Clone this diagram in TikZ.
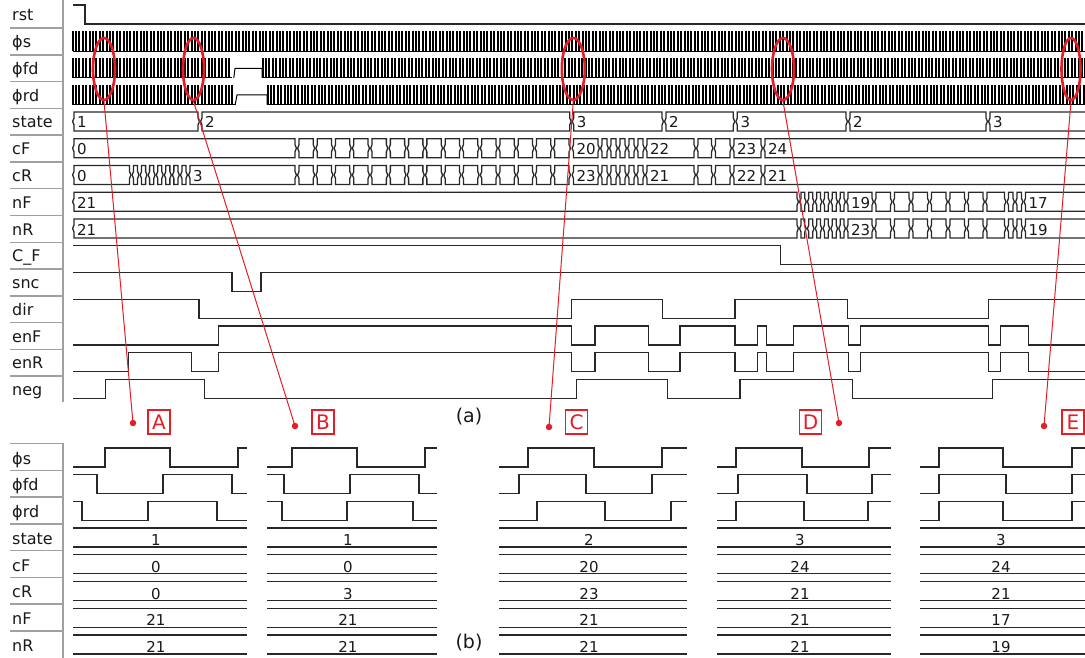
\documentclass[tikz,border=0pt]{standalone}
\usepackage{fontspec}
\setmainfont{DejaVu Sans}
\usetikzlibrary{shapes.geometric}
\definecolor{myred}{RGB}{228,30,38}
\definecolor{wavec}{RGB}{40,40,40}
\definecolor{sepc}{RGB}{160,160,160}
\newcounter{vn}
\tikzset{
 wave/.style={line width=1.3pt, draw=wavec},
 clk/.style={line width=1pt, draw=black},
 bus/.style={line width=1.3pt, draw=wavec},
 sep/.style={line width=1.5pt, draw=sepc},
 lbl/.style={font=\fontsize{16}{16}\selectfont, anchor=base west, inner sep=0pt, text=black!90},
 val/.style={font=\fontsize{15}{15}\selectfont, inner sep=0pt, text=black!90},
 ell/.style={ellipse, draw=myred, line width=2.6pt, inner sep=0pt},
 rline/.style={draw=myred, line width=1pt},
 rdot/.style={circle, fill=myred, inner sep=0pt, minimum size=6.5pt},
 lbox/.style={draw=myred, text=myred, line width=1.2pt, font=\fontsize{20}{20}\selectfont, minimum width=22pt, minimum height=24pt, inner sep=0pt},
 captxt/.style={font=\fontsize{19}{19}\selectfont, inner sep=0pt, text=black!90},
}
% bus segment shape: x0, x1, row top
\newcommand\busseg[3]{\draw[bus] ({#1+2},{#3+3.5}) -- ({#2-2},{#3+3.5}) -- ({#2-2},{#3+9.5}) -- ({#2-0.6},{#3+13}) -- ({#2-2},{#3+16.5}) -- ({#2-2},{#3+22.5}) -- ({#1+2},{#3+22.5}) -- ({#1+2},{#3+16.5}) -- ({#1+0.6},{#3+13}) -- ({#1+2},{#3+9.5}) -- cycle;}
% bus value text: x (segment start), row top, text
\newcommand\busval[3]{\stepcounter{vn}\node[val,anchor=base west] (v\arabic{vn}) at ({#1+5},{#2+19.5}) {#3};}
% equal small segments: start, width, count, row top
\newcommand\bussegs[4]{\foreach \k in {1,...,#3}{\pgfmathsetmacro\xa{#1+#2*(\k-1)}\pgfmathsetmacro\xb{#1+#2*\k}\busseg{\xa}{\xb}{#4}}}
% zoomed panel bus row: x0, x1, row top, text
\newcommand\pbus[4]{\draw[bus] (#1,{#3+3.5}) -- (#2,{#3+3.5}) (#1,{#3+22.5}) -- (#2,{#3+22.5});\stepcounter{vn}\node[val,anchor=base] (v\arabic{vn}) at ({(#1+#2)/2-4},{#3+21}) {#4};}
% clock: x0, periods, row top
\newcommand\clock[3]{\draw[clk] (#1,{#3+23}) \foreach \k in {1,...,#2}{ -- ++(0,-19.5) -- ++(1,0) -- ++(0,19.5) -- ++(2.4,0)};}

\begin{document}
\begin{tikzpicture}[x=1pt,y=-1pt]
\useasboundingbox (0,0) rectangle (1085,658);
\clip (0,0) rectangle (1085,658);

% ---------- label column (a) ----------
\draw[sep] (63,0) -- (63,402);
\foreach \i in {1,...,14}{\draw[sep] (10,{1.5+26.75*\i}) -- (62,{1.5+26.75*\i});}
\foreach \t [count=\i from 0] in {rst,ϕs,ϕfd,ϕrd,state,cF,cR,nF,nR,C\_F,snc,dir,enF,enR,neg}{
  \node[lbl] (la\i) at (12,{1.5+26.75*\i+19.5}) {\t};}

% ---------- digital signals ----------
\draw[wave] (73,5) -- (85,5) -- (85,24) -- (1090,24);
\draw[wave] (73,245.75) -| (780.5,264.75) -- (1090,264.75);
\draw[wave] (73,272.5) -| (232,291.5) -| (261,272.5) -- (1090,272.5);
\draw[wave] (73,299.25) -| (199,318.25) -| (571.7,299.25) -| (662.7,318.25) -| (735,299.25) -| (847.3,318.25) -| (988.3,299.25) -- (1090,299.25);
\draw[wave] (73,345) -| (218.7,326) -| (571.7,345) -| (595,326) -| (648.3,345) -| (680,326) -| (735,345) -| (757.7,326) -| (766.7,345) -| (793.3,326) -| (848.3,345) -| (860.7,326) -| (988.3,345) -| (1000.7,326) -| (1028.3,345) -- (1090,345);
\draw[wave] (73,371.75) -| (128.3,352.75) -| (191.7,371.75) -| (218.7,352.75) -| (571.7,371.75) -| (595,352.75) -| (648.3,371.75) -| (680,352.75) -| (735,371.75) -| (757.7,352.75) -| (766.7,371.75) -| (793.3,352.75) -| (848.3,371.75) -| (860.7,352.75) -| (988.3,371.75) -| (1000.7,352.75) -| (1028.3,371.75) -- (1090,371.75);
\draw[wave] (73,398.5) -| (105.7,379.5) -| (204.3,398.5) -| (576.7,379.5) -| (667.3,398.5) -| (740,379.5) -| (852.7,398.5) -| (992.3,379.5) -- (1090,379.5);

% ---------- clocks ----------
\clock{72}{300}{28.25}
\clock{72}{47}{55}
\draw[clk] (233.8,78) -- (235,68.3) -- (262,68.3) -- (262,78);
\clock{262}{243}{55}
\clock{72}{48}{81.75}
\draw[clk] (235.2,104.75) -- (237,95) -- (267,95) -- (267,104.75);
\clock{267}{242}{81.75}

% ---------- state ----------
\busseg{72}{200}{108.5}\busval{72}{108.5}{1}
\busseg{200}{571.7}{108.5}\busval{200}{108.5}{2}
\busseg{571.7}{664}{108.5}\busval{571.7}{108.5}{3}
\busseg{664}{735.3}{108.5}\busval{664}{108.5}{2}
\busseg{735.3}{848}{108.5}\busval{735.3}{108.5}{3}
\busseg{848}{988}{108.5}\busval{848}{108.5}{2}
\busseg{988}{1100}{108.5}\busval{988}{108.5}{3}

% ---------- cF ----------
\busseg{72}{297}{135.25}\busval{72}{135.25}{0}
\bussegs{297}{18.27}{15}{135.25}
\busseg{571.5}{600}{135.25}\busval{571.5}{135.25}{20}
\bussegs{600}{9}{5}{135.25}
\busseg{645}{696}{135.25}\busval{645}{135.25}{22}
\busseg{696}{713.5}{135.25}
\busseg{713.5}{732}{135.25}
\busseg{732}{763}{135.25}\busval{732}{135.25}{23}
\busseg{763}{1100}{135.25}\busval{763}{135.25}{24}

% ---------- cR ----------
\busseg{72}{131.5}{162}\busval{72}{162}{0}
\bussegs{131.5}{8.07}{7}{162}
\busseg{188}{297}{162}\busval{188}{162}{3}
\bussegs{297}{18.27}{15}{162}
\busseg{571.5}{600}{162}\busval{571.5}{162}{23}
\bussegs{600}{9}{5}{162}
\busseg{645}{696}{162}\busval{645}{162}{21}
\busseg{696}{713.5}{162}
\busseg{713.5}{732}{162}
\busseg{732}{763}{162}\busval{732}{162}{22}
\busseg{763}{1100}{162}\busval{763}{162}{21}

% ---------- nF ----------
\busseg{72}{799}{188.75}\busval{72}{188.75}{21}
\bussegs{799}{7.83}{6}{188.75}
\busseg{846}{874}{188.75}\busval{846}{188.75}{19}
\bussegs{874}{18.5}{6}{188.75}
\busseg{985}{1006.5}{188.75}
\busseg{1006.5}{1015}{188.75}
\busseg{1015}{1023.5}{188.75}
\busseg{1023.5}{1100}{188.75}\busval{1023.5}{188.75}{17}

% ---------- nR ----------
\busseg{72}{799}{215.5}\busval{72}{215.5}{21}
\bussegs{799}{7.83}{6}{215.5}
\busseg{846}{874}{215.5}\busval{846}{215.5}{23}
\bussegs{874}{18.5}{6}{215.5}
\busseg{985}{1006.5}{215.5}
\busseg{1006.5}{1015}{215.5}
\busseg{1015}{1023.5}{215.5}
\busseg{1023.5}{1100}{215.5}\busval{1023.5}{215.5}{19}

% ---------- captions ----------
\node[captxt] (capa) at (469,417) {(a)};
\node[captxt] (capb) at (469,643) {(b)};

% ---------- label column (b) ----------
\draw[sep] (63,443) -- (63,658);
\foreach \i in {0,...,7}{\draw[sep] (10,{443.5+26.75*\i}) -- (62,{443.5+26.75*\i});}
\foreach \t [count=\i from 0] in {ϕs,ϕfd,ϕrd,state,cF,cR,nF,nR}{
  \node[lbl] (lb\i) at (12,{444.5+26.75*\i+19.5}) {\t};}

% ---------- zoomed panels ----------
% A
\draw[wave] (73,467) -| (105,448) -| (170,467) -| (238,448) -- (247,448);
\draw[wave] (73,474.75) -| (97,493.75) -| (163,474.75) -| (232,493.75) -- (247,493.75);
\draw[wave] (73,501.5) -| (82,520.5) -| (148,501.5) -| (217,520.5) -- (247,520.5);
\pbus{73}{247}{524.5}{1}\pbus{73}{247}{551.25}{0}\pbus{73}{247}{578}{0}\pbus{73}{247}{604.75}{21}\pbus{73}{247}{631.5}{21}
% B
\draw[wave] (267,467) -| (292,448) -| (357,467) -| (425,448) -- (437,448);
\draw[wave] (267,474.75) -| (284,493.75) -| (350,474.75) -| (419,493.75) -- (437,493.75);
\draw[wave] (267,501.5) -| (282,520.5) -| (347,501.5) -| (413,520.5) -- (437,520.5);
\pbus{267}{437}{524.5}{1}\pbus{267}{437}{551.25}{0}\pbus{267}{437}{578}{3}\pbus{267}{437}{604.75}{21}\pbus{267}{437}{631.5}{21}
% C
\draw[wave] (499,467) -| (528,448) -| (594,467) -| (662,448) -- (687,448);
\draw[wave] (499,493.75) -| (519,474.75) -| (586,493.75) -| (652,474.75) -- (687,474.75);
\draw[wave] (499,520.5) -| (537,501.5) -| (605,520.5) -| (671,501.5) -- (687,501.5);
\pbus{499}{687}{524.5}{2}\pbus{499}{687}{551.25}{20}\pbus{499}{687}{578}{23}\pbus{499}{687}{604.75}{21}\pbus{499}{687}{631.5}{21}
% D
\draw[wave] (717,467) -| (736,448) -| (802,467) -| (869,448) -- (891,448);
\draw[wave] (717,493.75) -| (738,474.75) -| (807,493.75) -| (872,474.75) -- (891,474.75);
\draw[wave] (717,520.5) -| (736,501.5) -| (804,520.5) -| (868,501.5) -- (891,501.5);
\pbus{717}{891}{524.5}{3}\pbus{717}{891}{551.25}{24}\pbus{717}{891}{578}{21}\pbus{717}{891}{604.75}{21}\pbus{717}{891}{631.5}{21}
% E
\draw[wave] (920,467) -| (939,448) -| (1003,467) -| (1072,448) -- (1090,448);
\draw[wave] (920,493.75) -| (939,474.75) -| (1006,493.75) -| (1072,474.75) -- (1090,474.75);
\draw[wave] (920,520.5) -| (939,501.5) -| (1003,520.5) -| (1072,501.5) -- (1090,501.5);
\pbus{920}{1090}{524.5}{3}\pbus{920}{1090}{551.25}{24}\pbus{920}{1090}{578}{21}\pbus{920}{1090}{604.75}{17}\pbus{920}{1090}{631.5}{19}

% ---------- red markers ----------
\node[ell, minimum width=22pt, minimum height=62pt] (eA) at (104,69) {};
\node[ell, minimum width=21pt, minimum height=62pt] (eB) at (193.5,69) {};
\node[ell, minimum width=23pt, minimum height=62pt] (eC) at (573.3,69) {};
\node[ell, minimum width=22pt, minimum height=62pt] (eD) at (783,69) {};
\node[ell, minimum width=19pt, minimum height=62pt] (eE) at (1071,69) {};
\node[rdot] (dA) at (133,423) {};
\node[rdot] (dB) at (295,426) {};
\node[rdot] (dC) at (549,427) {};
\node[rdot] (dD) at (839,423) {};
\node[rdot] (dE) at (1044,426) {};
\node[lbox] (bA) at (159,422) {A};
\node[lbox] (bB) at (323,422) {B};
\node[lbox] (bC) at (576.5,422) {C};
\node[lbox] (bD) at (810.5,422) {D};
\node[lbox] (bE) at (1073,422) {E};
\draw[rline] (eA.south) -- (dA.center);
\draw[rline] (eB.south) -- (dB.center);
\draw[rline] (eC.south) -- (dC.center);
\draw[rline] (eD.south) -- (dD.center);
\draw[rline] (eE.south) -- (dE.center);
\end{tikzpicture}
\end{document}
